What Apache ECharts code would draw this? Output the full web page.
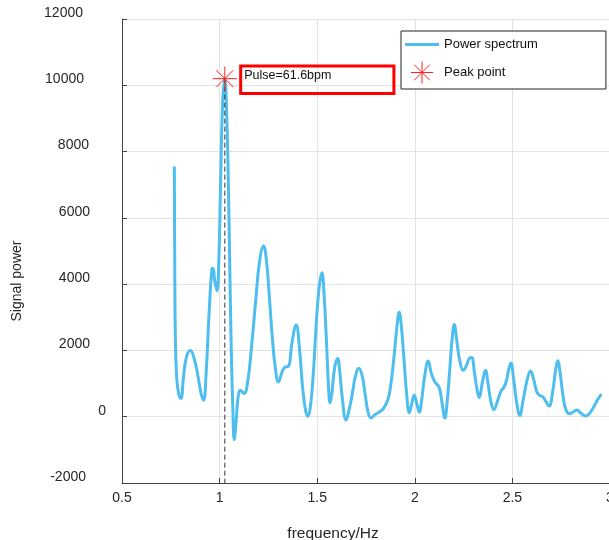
<!DOCTYPE html>
<html><head><meta charset="utf-8">
<script src="https://cdn.jsdelivr.net/npm/echarts@6/dist/echarts.min.js"></script>
<style>html,body{margin:0;padding:0;background:#fff}#c{width:609px;height:540px}</style>
</head><body><div id="c"></div>
<script>
const freq = [0.768,0.770,0.773,0.780,0.790,0.802,0.815,0.830,0.850,0.870,0.890,0.905,0.918,0.930,0.945,0.960,0.966,0.975,0.986,0.995,1.005,1.015,1.026,1.037,1.048,1.058,1.068,1.075,1.085,1.095,1.106,1.125,1.145,1.165,1.185,1.205,1.225,1.240,1.255,1.270,1.285,1.302,1.320,1.336,1.353,1.370,1.392,1.410,1.425,1.440,1.452,1.465,1.480,1.495,1.510,1.524,1.535,1.548,1.558,1.566,1.575,1.590,1.605,1.615,1.628,1.648,1.665,1.680,1.695,1.713,1.730,1.745,1.760,1.776,1.795,1.820,1.840,1.864,1.880,1.895,1.910,1.920,1.930,1.945,1.958,1.972,1.985,1.997,2.010,2.023,2.035,2.050,2.069,2.085,2.103,2.125,2.140,2.154,2.165,2.180,2.192,2.202,2.215,2.230,2.248,2.265,2.278,2.291,2.305,2.318,2.330,2.345,2.362,2.375,2.390,2.405,2.425,2.444,2.456,2.470,2.482,2.492,2.505,2.520,2.538,2.555,2.575,2.593,2.610,2.625,2.640,2.657,2.672,2.688,2.705,2.720,2.732,2.745,2.760,2.775,2.794,2.812,2.831,2.850,2.875,2.895,2.915,2.935,2.956];
const power = [7550,5000,2500,1200,700,550,1200,1800,2000,1750,1200,700,500,1200,3000,4450,4480,4100,3800,4500,7000,9400,10200,9000,6000,2500,200,-690,-100,600,800,700,1100,2200,3500,4700,5150,4700,3600,2400,1500,1050,1350,1500,1520,2200,2770,2000,900,200,15,300,1300,2800,3900,4340,3700,2200,900,420,700,1500,1760,1400,600,-100,250,700,1200,1460,1250,700,150,-40,60,150,250,550,1100,1900,2800,3150,2800,1700,700,120,400,650,400,140,500,1200,1680,1300,1050,880,400,-40,400,1500,2400,2780,2300,1700,1400,1550,1750,1790,1350,850,580,1000,1400,1000,450,220,500,800,880,1100,1450,1620,1200,500,40,500,1100,1380,1100,750,640,600,450,320,700,1350,1690,1300,600,200,90,150,200,110,25,100,280,500,680];
const pulseBpm = 61.6;
const peakFreq = pulseBpm / 60;
const peakPower = 10200;
const xTicks = [0.5, 1, 1.5, 2, 2.5, 3];
const yTicks = [-2000, 0, 2000, 4000, 6000, 8000, 10000, 12000];
const boxX = [1.108, 1.893];
const boxY = [9752, 10580];

const star = 'path://M12,0L12,24M0,12L24,12M3.5,3.5L20.5,20.5M3.5,20.5L20.5,3.5';
const lineIcon = 'path://M0,10H34V13H0Z';
const font = 'Liberation Sans, Arial, Helvetica, sans-serif';
const axisColor = '#444';
const labelColor = '#262626';
// right padding of each y tick label (reproduces the uneven label placement)
const yLabelPad = {'12000': 23, '10000': 22, '8000': 17, '6000': 16, '4000': 16, '2000': 16, '0': 0, '-2000': 20};
const rich = {};
Object.keys(yLabelPad).forEach(k => {
  rich['p' + yLabelPad[k]] = {padding: [0, yLabelPad[k], 0, 0], fontSize: 14, color: labelColor, fontFamily: font};
});

const chart = echarts.init(document.getElementById('c'), null, {renderer: 'canvas'});
chart.setOption({
  animation: false,
  textStyle: {fontFamily: font},
  grid: {left: 122, top: 19, right: -1, bottom: 57, containLabel: false, outerBoundsMode: 'none'},
  legend: {
    left: 401, top: 31, orient: 'vertical',
    padding: [7, 68, 5, 4],
    itemWidth: 34, itemHeight: 22, itemGap: 10,
    borderColor: '#222', borderWidth: 1, backgroundColor: '#fff',
    textStyle: {fontSize: 13, color: '#111', fontFamily: font},
    data: [
      {name: 'Power spectrum', icon: lineIcon, itemStyle: {color: '#4DBEEE', borderWidth: 0}},
      {name: 'Peak point', icon: star, itemStyle: {color: 'transparent', borderColor: '#ff2020', borderWidth: 1}}
    ]
  },
  xAxis: {
    type: 'value', min: xTicks[0], max: xTicks[xTicks.length - 1], interval: 0.5,
    name: 'frequency/Hz', nameLocation: 'middle', nameGap: 43,
    nameTextStyle: {fontSize: 15.5, color: labelColor, padding: [0, 66, 0, 0]},
    axisLine: {show: true, onZero: false, lineStyle: {color: axisColor, width: 1}},
    axisTick: {show: true, inside: true, length: 5, lineStyle: {color: axisColor}},
    axisLabel: {fontSize: 14, color: labelColor, margin: 8, formatter: v => String(v)},
    splitLine: {show: true, lineStyle: {color: '#e3e3e3', width: 1}}
  },
  yAxis: {
    type: 'value', min: yTicks[0], max: yTicks[yTicks.length - 1], interval: 2000,
    name: 'Signal power', nameLocation: 'middle', nameGap: 98,
    nameTextStyle: {fontSize: 14, color: labelColor, padding: [0, 60, 0, 0]},
    axisLine: {show: true, onZero: false, lineStyle: {color: axisColor, width: 1}},
    axisTick: {show: true, inside: true, length: 5, lineStyle: {color: axisColor}},
    axisLabel: {
      fontSize: 14, color: labelColor, margin: 16, verticalAlign: 'bottom', lineHeight: 12,
      formatter: v => '{p' + (yLabelPad[String(v)] || 0) + '|' + v + '}',
      rich: rich
    },
    splitLine: {show: true, lineStyle: {color: '#e3e3e3', width: 1}}
  },
  series: [
    {
      name: 'Power spectrum', type: 'line', symbol: 'none', smooth: 0.45,
      data: freq.map((f, i) => [f, power[i]]),
      lineStyle: {color: '#4DBEEE', width: 3},
      itemStyle: {color: '#4DBEEE'},
      z: 2,
      markArea: {
        silent: true,
        itemStyle: {color: 'rgba(0,0,0,0)', borderColor: '#ff0000', borderWidth: 3},
        label: {show: true, position: [5, 4], color: '#111', fontSize: 12.5, fontFamily: font},
        data: [[{name: 'Pulse=' + pulseBpm + 'bpm', coord: [boxX[0], boxY[1]]}, {coord: [boxX[1], boxY[0]]}]]
      }
    },
    {
      name: 'peakLine', type: 'line', symbol: 'none', silent: true,
      data: [[peakFreq, peakPower], [peakFreq, yTicks[0]]],
      lineStyle: {color: '#333', width: 1, type: [5, 3]},
      z: 3
    },
    {
      name: 'Peak point', type: 'scatter', symbol: star, symbolSize: 24,
      data: [[peakFreq, peakPower]],
      itemStyle: {color: 'transparent', borderColor: '#ff2020', borderWidth: 1, opacity: 1},
      z: 4
    }
  ]
});
</script></body></html>
